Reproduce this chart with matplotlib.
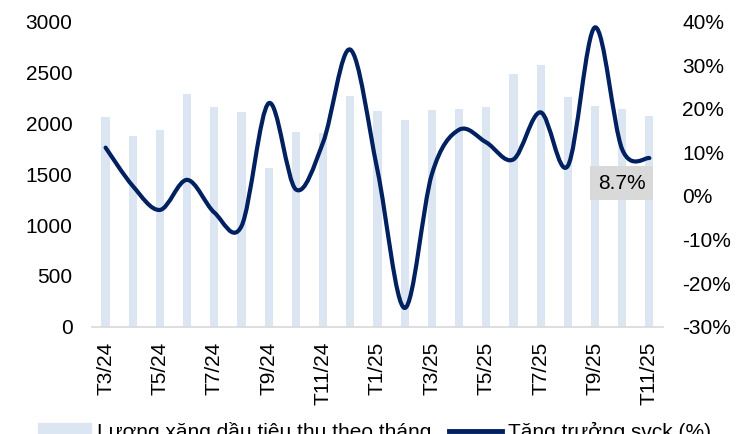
import numpy as np
import matplotlib.pyplot as plt
from matplotlib.path import Path
from matplotlib.patches import PathPatch, Patch
from matplotlib.lines import Line2D
from matplotlib.ticker import FuncFormatter

plt.rcParams['font.family'] = ['Liberation Sans', 'DejaVu Sans']

# thang T3/24 -> T11/25
months = ['T3/24', 'T4/24', 'T5/24', 'T6/24', 'T7/24', 'T8/24', 'T9/24', 'T10/24',
          'T11/24', 'T12/24', 'T1/25', 'T2/25', 'T3/25', 'T4/25', 'T5/25', 'T6/25',
          'T7/25', 'T8/25', 'T9/25', 'T10/25', 'T11/25']
volume = [2062, 1872, 1931, 2289, 2161, 2111, 1564, 1911, 1905, 2269, 2118,
          2030, 2131, 2144, 2161, 2482, 2574, 2259, 2167, 2141, 2072]
growth = [11.1, 2.3, -3.2, 3.7, -3.8, -6.9, 21.3, 1.5, 12.3, 33.6, 5.9,
          -25.7, 5.0, 15.2, 12.3, 8.4, 19.2, 6.9, 38.7, 10.7, 8.7]

bar_color = '#DCE6F2'
line_color = '#002060'


def smooth_path(x, y):
    # duong cong kieu excel (bezier qua tung diem)
    n = len(x)
    verts = [(x[0], y[0])]
    codes = [Path.MOVETO]
    for i in range(n - 1):
        a = max(i - 1, 0)
        b = min(i + 2, n - 1)
        c1 = (x[i] + (x[i + 1] - x[a]) / 6, y[i] + (y[i + 1] - y[a]) / 6)
        c2 = (x[i + 1] - (x[b] - x[i]) / 6, y[i + 1] - (y[b] - y[i]) / 6)
        verts += [c1, c2, (x[i + 1], y[i + 1])]
        codes += [Path.CURVE4] * 3
    return Path(verts, codes)


fig = plt.figure(figsize=(7.46, 4.34), dpi=100)
ax = fig.add_axes([0.1233, 0.2472, 0.7654, 0.7028])
ax2 = ax.twinx()

x = np.arange(len(months))
ax.bar(x, volume, width=0.3, color=bar_color)
ax.set_xlim(-0.5, len(months) - 0.5)
ax.set_ylim(0, 3000)
ax.set_yticks(np.arange(0, 3001, 500))

ax2.add_patch(PathPatch(smooth_path(x, growth), fill=False, edgecolor=line_color,
                        lw=3, capstyle='round', joinstyle='round'))
ax2.set_ylim(-30, 40)
ax2.set_yticks(np.arange(-30, 41, 10))
ax2.yaxis.set_major_formatter(FuncFormatter(lambda v, p: f'{v:.0f}%'))

ax.set_xticks(x[::2])
ax.set_xticklabels(months[::2], rotation=90)

for a in (ax, ax2):
    for s in a.spines.values():
        s.set_visible(False)
    a.tick_params(length=0, labelsize=15, colors='black')
ax.spines['bottom'].set_visible(True)
ax.spines['bottom'].set_color('#D9D9D9')
ax.spines['bottom'].set_linewidth(1.2)
ax.tick_params(axis='y', pad=14)
ax.tick_params(axis='x', pad=11)
ax2.tick_params(axis='y', pad=14)

ax2.annotate(f'{growth[-1]}%', xy=(x[-1], growth[-1]), xytext=(-20, -18),
             textcoords='offset points', ha='center', va='center', fontsize=15,
             bbox=dict(boxstyle='square,pad=0.35', fc='#D9D9D9', ec='none'))

handles = [Patch(color=bar_color), Line2D([], [], color=line_color, lw=3.5)]
labels = ['Lượng xăng dầu tiêu thụ theo tháng', 'Tăng trưởng svck (%)']
fig.legend(handles, labels, loc='center left', bbox_to_anchor=(0.051, 0.005),
           ncol=2, frameon=False, fontsize=15, borderpad=0, borderaxespad=0,
           handlelength=2.55, handletextpad=0.27, columnspacing=0.85)

fig.savefig('out.png', dpi=100)
